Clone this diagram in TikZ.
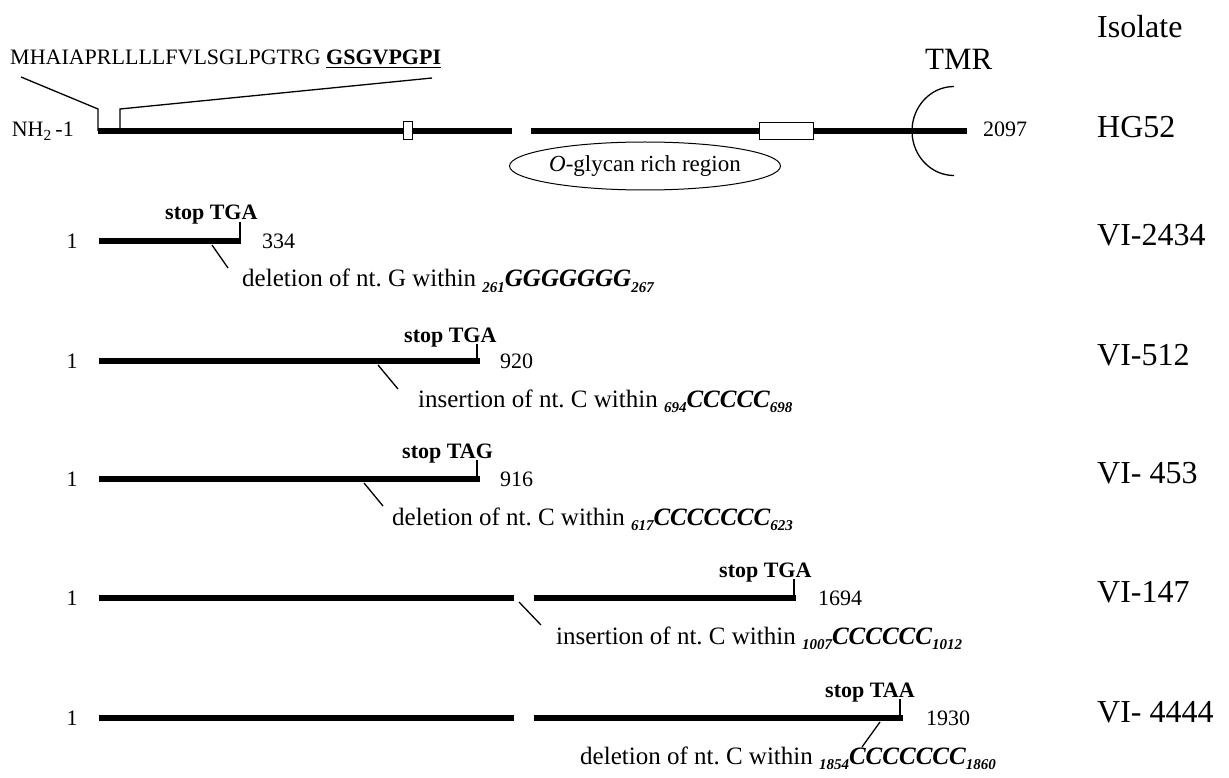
\documentclass[tikz,border=0pt]{standalone}
\usepackage{fontspec}
\setmainfont{Liberation Serif}
\usetikzlibrary{shapes.geometric}
\frenchspacing
\newcommand{\lsub}[1]{\raisebox{-0.45ex}{\fontsize{15}{15}\selectfont\bfseries\itshape #1}}
\newcommand{\seqbi}[1]{{\bfseries\itshape #1}}
\tikzset{
  gene/.style={line width=6.5pt},
  thinline/.style={line width=1.3pt},
  lbl/.style={inner sep=0pt, anchor=base west, font=\fontsize{22}{24}\selectfont},
  iso/.style={inner sep=0pt, anchor=base west, font=\fontsize{32}{34}\selectfont},
  stoplbl/.style={inner sep=0pt, anchor=base west, font=\fontsize{22}{24}\selectfont\bfseries},
  note/.style={inner sep=0pt, anchor=base west, font=\fontsize{25}{27}\selectfont},
  one/.style={inner sep=0pt, anchor=base, font=\fontsize{22}{24}\selectfont},
  dombox/.style={draw, fill=white, line width=1pt}
}
\begin{document}
\begin{tikzpicture}[x=1pt,y=-1pt]
\useasboundingbox (0,0) rectangle (1229,778);
% header
\node[iso] (isolate) at (1097,38) {Isolate};
\node[lbl] (seq) at (10,65) {MHAIAPRLLLLFVLSGLPGTRG \underline{\textbf{GSGVPGPI}}};
\node[iso, font=\fontsize{31}{33}\selectfont] (tmr) at (925,70) {TMR};
% HG52
\node[lbl, anchor=base east] (nh) at (74,137) {NH\textsubscript{2}\,-1};
\coordinate (h0) at (98,131);
\coordinate (h1) at (512,131);
\coordinate (h2) at (531,131);
\coordinate (h3) at (967,131);
\draw[gene] (h0) -- (h1);
\draw[gene] (h2) -- (h3);
\coordinate (s1) at (21,77);
\coordinate (s2) at (98,109);
\coordinate (s3) at (120,109);
\coordinate (s4) at (432,78);
\draw[thinline] (s1) -- (s2) -- (h0);
\draw[thinline] (120,131) -- (s3) -- (s4);
\node[dombox, minimum width=9pt, minimum height=18pt, inner sep=0pt] (box1) at (407.5,131) {};
\node[dombox, minimum width=54pt, minimum height=17pt, inner sep=0pt] (box2) at (786,131.5) {};
\draw[thinline] (954,86.5) arc[start angle=270, end angle=90, x radius=42, y radius=44.5];
\node[lbl] (n2097) at (983,137) {2097};
\node[iso] (hg52) at (1097,138) {HG52};
\node[draw, ellipse, line width=1pt, minimum width=224pt, minimum height=48pt, inner sep=0pt,
      font=\fontsize{23}{25}\selectfont] (oglycan) at (645,166) {\textit{O}-glycan rich region};
% row 1: VI-2434
\node[one] (one1) at (72,248) {1};
\coordinate (a0) at (99,241);
\coordinate (a1) at (241,241);
\draw[gene] (a0) -- (a1);
\draw[thinline] (240,222) -- (240,241);
\node[stoplbl] (stop1) at (165,220) {stop TGA};
\node[lbl] (end1) at (262,248) {334};
\coordinate (d1a) at (212,245);
\coordinate (d1b) at (228,268);
\draw[thinline] (d1a) -- (d1b);
\node[note] (note1) at (242,287) {deletion of nt. G within \lsub{261}\seqbi{GGGGGGG}\lsub{267}};
\node[iso] (iso1) at (1097,245) {VI-2434};
% row 2: VI-512
\node[one] (one2) at (72,368) {1};
\coordinate (b0) at (99,361);
\coordinate (b1) at (480,361);
\draw[gene] (b0) -- (b1);
\draw[thinline] (477,344) -- (477,361);
\node[stoplbl] (stop2) at (404,342) {stop TGA};
\node[lbl] (end2) at (500,368) {920};
\coordinate (d2a) at (378,365);
\coordinate (d2b) at (398,389);
\draw[thinline] (d2a) -- (d2b);
\node[note] (note2) at (418,407) {insertion of nt. C within \lsub{694}\seqbi{CCCCC}\lsub{698}};
\node[iso] (iso2) at (1097,365) {VI-512};
% row 3: VI-453
\node[one] (one3) at (72,486) {1};
\coordinate (c0) at (99,479);
\coordinate (c1) at (480,479);
\draw[gene] (c0) -- (c1);
\draw[thinline] (477,460) -- (477,479);
\node[stoplbl] (stop3) at (402,458) {stop TAG};
\node[lbl] (end3) at (500,486) {916};
\coordinate (d3a) at (364,483);
\coordinate (d3b) at (383,506);
\draw[thinline] (d3a) -- (d3b);
\node[note] (note3) at (392,525) {deletion of nt. C within \lsub{617}\seqbi{CCCCCCC}\lsub{623}};
\node[iso] (iso3) at (1097,483) {VI- 453};
% row 4: VI-147
\node[one] (one4) at (72,605) {1};
\coordinate (e0) at (99,598);
\coordinate (e1) at (514,598);
\coordinate (e2) at (534,598);
\coordinate (e3) at (796,598);
\draw[gene] (e0) -- (e1);
\draw[gene] (e2) -- (e3);
\draw[thinline] (794,579) -- (794,598);
\node[stoplbl] (stop4) at (719,577) {stop TGA};
\node[lbl] (end4) at (818,605) {1694};
\coordinate (d4a) at (519,602);
\coordinate (d4b) at (541,625);
\draw[thinline] (d4a) -- (d4b);
\node[note] (note4) at (556,644) {insertion of nt. C within \lsub{1007}\seqbi{CCCCCC}\lsub{1012}};
\node[iso] (iso4) at (1097,602) {VI-147};
% row 5: VI-4444
\node[one] (one5) at (72,725) {1};
\coordinate (f0) at (99,718);
\coordinate (f1) at (514,718);
\coordinate (f2) at (534,718);
\coordinate (f3) at (903,718);
\draw[gene] (f0) -- (f1);
\draw[gene] (f2) -- (f3);
\draw[thinline] (900,699) -- (900,718);
\node[stoplbl] (stop5) at (825,697) {stop TAA};
\node[lbl] (end5) at (926,725) {1930};
\coordinate (d5a) at (880,722);
\coordinate (d5b) at (862,747);
\draw[thinline] (d5a) -- (d5b);
\node[note] (note5) at (580,764) {deletion of nt. C within \lsub{1854}\seqbi{CCCCCCC}\lsub{1860}};
\node[iso] (iso5) at (1097,722) {VI- 4444};
\end{tikzpicture}
\end{document}
